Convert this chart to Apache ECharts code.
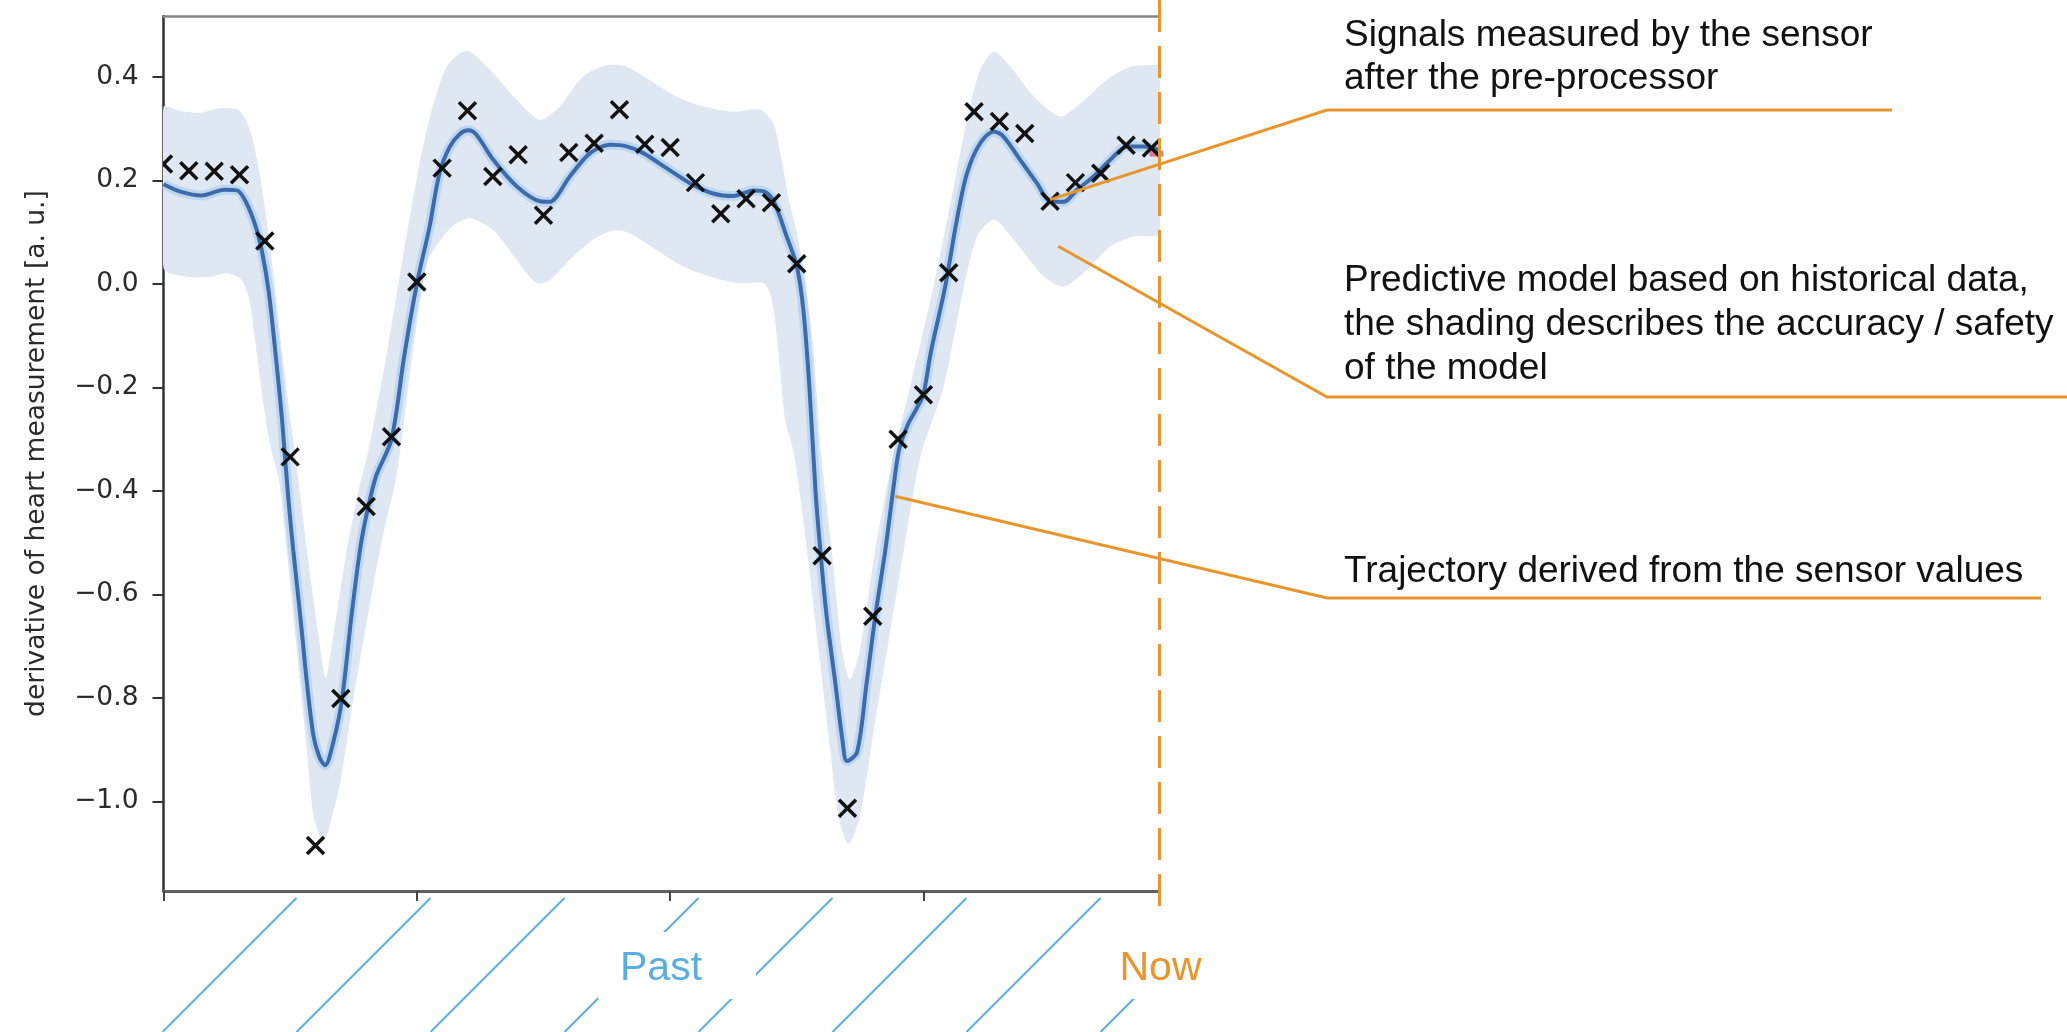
<!DOCTYPE html>
<html>
<head>
<meta charset="utf-8">
<title>Sensor signal and predictive model</title>
<script src="https://cdn.jsdelivr.net/npm/echarts@6/dist/echarts.min.js"></script>
<style>
  html, body { margin: 0; padding: 0; background: #fff; }
  #chart { width: 2067px; height: 1032px; }
</style>
</head>
<body>
<div id="chart"></div>
<script>
// sensor samples (after the pre-processor)
const sampleTimes = [0, 0.5, 1, 1.5, 2, 2.5, 3, 3.5, 4, 4.5, 5, 5.5, 6, 6.5, 7, 7.5, 8, 8.5, 9, 9.5,
  10, 10.5, 11, 11.5, 12, 12.5, 13, 13.5, 14, 14.5, 15, 15.5, 16, 16.5, 17, 17.5, 18, 18.5, 19, 19.5];
const sensorValues = [0.232, 0.219, 0.218, 0.211, 0.083, -0.334, -1.085, -0.801, -0.43, -0.295,
  0.004, 0.224, 0.335, 0.208, 0.25, 0.133, 0.254, 0.272, 0.337, 0.27,
  0.264, 0.196, 0.136, 0.165, 0.157, 0.039, -0.525, -1.013, -0.642, -0.3,
  -0.214, 0.022, 0.333, 0.314, 0.291, 0.16, 0.196, 0.214, 0.268, 0.263];

// model mean (trajectory)
const modelMean = [
  [0, 0.193], [0.35, 0.178], [0.75, 0.171], [1.2, 0.182], [1.45, 0.181], [1.63, 0.158],
  [1.82, 0.111], [1.95, 0.06], [2.08, -0.017], [2.21, -0.133], [2.34, -0.262], [2.46, -0.41],
  [2.56, -0.513], [2.7, -0.642], [2.83, -0.77], [2.96, -0.873], [3.08, -0.915], [3.19, -0.93],
  [3.35, -0.886], [3.52, -0.805], [3.71, -0.642], [3.88, -0.513], [4.02, -0.44], [4.2, -0.37],
  [4.5, -0.3], [4.75, -0.14], [5.0, 0.0], [5.25, 0.11], [5.45, 0.215], [5.65, 0.265],
  [5.85, 0.29], [6.02, 0.297], [6.18, 0.288], [6.51, 0.24], [6.97, 0.189], [7.43, 0.16],
  [7.62, 0.159], [8.02, 0.208], [8.42, 0.253], [8.81, 0.269], [9.14, 0.266], [9.47, 0.253],
  [9.93, 0.224], [10.39, 0.195], [10.85, 0.175], [11.25, 0.17], [11.65, 0.181], [11.88, 0.178],
  [12.06, 0.157], [12.3, 0.092], [12.5, 0.035], [12.63, -0.05], [12.75, -0.2], [12.87, -0.4],
  [12.97, -0.52], [13.09, -0.642], [13.26, -0.77], [13.4, -0.88], [13.49, -0.922], [13.69, -0.905],
  [13.88, -0.77], [14.05, -0.642], [14.25, -0.513], [14.4, -0.4], [14.52, -0.32], [14.7, -0.27],
  [14.87, -0.24], [15.0, -0.213], [15.15, -0.13], [15.43, -0.005], [15.66, 0.124], [15.86, 0.214],
  [16.12, 0.272], [16.39, 0.295], [16.58, 0.285], [16.91, 0.24], [17.24, 0.195], [17.5, 0.16],
  [17.77, 0.159], [18.03, 0.182], [18.36, 0.208], [18.69, 0.24], [19.02, 0.266], [19.35, 0.266],
  [19.66, 0.259]
];

// confidence band outline
const bandUpper = [
  [0, 0.342], [0.35, 0.334], [0.75, 0.331], [1.15, 0.34], [1.48, 0.336], [1.62, 0.318],
  [1.76, 0.28], [1.9, 0.21], [2.04, 0.12], [2.17, 0.02], [2.28, -0.08], [2.4, -0.18],
  [2.5, -0.26], [2.6, -0.33], [2.83, -0.513], [3.06, -0.68], [3.2, -0.762], [3.35, -0.68],
  [3.62, -0.513], [3.85, -0.4], [4.05, -0.32], [4.41, -0.133], [4.74, 0.06], [5.07, 0.24],
  [5.33, 0.349], [5.59, 0.42], [5.85, 0.446], [6.05, 0.449], [6.51, 0.407], [6.97, 0.356],
  [7.43, 0.317], [7.82, 0.343], [8.28, 0.401], [8.74, 0.423], [9.14, 0.42], [9.6, 0.394],
  [10.13, 0.362], [10.66, 0.343], [11.25, 0.333], [11.78, 0.337], [12.04, 0.31], [12.2, 0.24],
  [12.35, 0.16], [12.5, 0.1], [12.65, 0.02], [12.8, -0.1], [12.9, -0.22], [12.98, -0.33],
  [13.19, -0.513], [13.39, -0.706], [13.55, -0.764], [13.75, -0.706], [14.05, -0.513], [14.41, -0.33],
  [14.74, -0.198], [15.2, -0.005], [15.6, 0.189], [15.86, 0.317], [16.12, 0.414], [16.39, 0.449],
  [16.72, 0.42], [17.18, 0.362], [17.7, 0.324], [18.1, 0.349], [18.62, 0.395], [19.08, 0.42],
  [19.41, 0.423], [19.66, 0.42]
];
const bandLower = [
  [0, 0.031], [0.45, 0.014], [0.92, 0.014], [1.25, 0.021], [1.5, 0.012], [1.61, -0.005],
  [1.71, -0.037], [1.84, -0.133], [1.97, -0.23], [2.1, -0.31], [2.28, -0.38], [2.43, -0.513],
  [2.63, -0.706], [2.83, -0.9], [2.96, -1.028], [3.1, -1.07], [3.2, -1.07], [3.3, -1.04],
  [3.49, -0.963], [3.75, -0.8], [4.0, -0.66], [4.3, -0.5], [4.6, -0.37], [4.87, -0.17],
  [5.2, 0.04], [5.5, 0.09], [5.75, 0.115], [6.05, 0.127], [6.51, 0.104], [6.97, 0.047],
  [7.36, 0.002], [7.63, 0.008], [8.02, 0.047], [8.48, 0.086], [8.88, 0.104], [9.2, 0.098],
  [9.73, 0.066], [10.26, 0.034], [10.79, 0.014], [11.32, 0.002], [11.84, 0.002], [11.97, -0.017],
  [12.07, -0.069], [12.17, -0.165], [12.27, -0.262], [12.45, -0.33], [12.7, -0.513], [12.93, -0.706],
  [13.16, -0.899], [13.32, -1.028], [13.52, -1.082], [13.75, -1.028], [14.01, -0.867], [14.34, -0.674],
  [14.67, -0.48], [14.95, -0.33], [15.4, -0.198], [15.8, -0.005], [16.06, 0.092], [16.39, 0.124],
  [16.78, 0.086], [17.37, 0.015], [17.77, -0.005], [18.23, 0.028], [18.69, 0.073], [19.15, 0.092],
  [19.66, 0.098]
];
const lastSample = [[19.6, 0.252]];

const xTicks = [0, 5, 10, 15];
const yTicks = [-1.0, -0.8, -0.6, -0.4, -0.2, 0.0, 0.2, 0.4];
const xRange = [0, 19.66];
const yRange = [-1.173, 0.518];

const yAxisTitle = 'derivative of heart measurement [a. u.]';
const notes = [
  { lines: ['Signals measured by the sensor', 'after the pre-processor'], target: [17.5, 0.163] },
  { lines: ['Predictive model based on historical data,', 'the shading describes the accuracy / safety', 'of the model'], target: [17.66, 0.073] },
  { lines: ['Trajectory derived from the sensor values'], target: [14.44, -0.41] }
];
const pastLabel = 'Past';
const nowLabel = 'Now';

// layout (pixels)
const noteLayout = [
  { baselines: [47, 90.5], underlineY: 110, underlineEnd: 1892 },
  { baselines: [292, 336, 380.5], underlineY: 397, underlineEnd: 2067 },
  { baselines: [583], underlineY: 598, underlineEnd: 2041 }
];
const noteX = 1344, noteLineStart = 1327;
const orange = '#e8952c';
const sky = '#5aaedf';
const sans = '"Liberation Sans", Arial, sans-serif';
const mpl = '"DejaVu Sans", sans-serif';
const crossHalf = 8.5;

const chart = echarts.init(document.getElementById('chart'));

chart.setOption({
  animation: false,
  backgroundColor: '#fff',
  grid: { left: 163.5, right: 907.5, top: 16, bottom: 141, outerBoundsMode: 'none' },
  xAxis: [
    {
      type: 'value', min: xRange[0], max: xRange[1], position: 'bottom',
      axisLine: { onZero: false, lineStyle: { color: '#5f5f5f', width: 3 } },
      axisTick: { show: true, length: 10, customValues: xTicks, lineStyle: { color: '#444', width: 2 } },
      axisLabel: { show: false },
      splitLine: { show: false }
    },
    {
      type: 'value', min: xRange[0], max: xRange[1], position: 'top',
      axisLine: { onZero: false, lineStyle: { color: '#858585', width: 2.5 } },
      axisTick: { show: false }, axisLabel: { show: false }, splitLine: { show: false }
    }
  ],
  yAxis: {
    type: 'value', min: yRange[0], max: yRange[1],
    axisLine: { show: true, onZero: false, lineStyle: { color: '#333', width: 2.5 } },
    axisTick: { show: true, length: 11, customValues: yTicks, lineStyle: { color: '#333', width: 2 } },
    axisLabel: {
      customValues: yTicks, margin: 25, fontFamily: mpl, fontSize: 26.5, color: '#2a2a2a',
      formatter: v => (v < -1e-9 ? '\u2212' : '') + Math.abs(v).toFixed(1)
    },
    splitLine: { show: false },
    name: yAxisTitle, nameLocation: 'middle', nameGap: 113,
    nameTextStyle: { fontFamily: mpl, fontSize: 26.5, color: '#2a2a2a' }
  },
  series: [
    {
      // shaded accuracy band
      type: 'custom', z: 1, clip: true, silent: true,
      data: [[0, 0]],
      renderItem: (params, api) => {
        if (params.dataIndex !== 0) return null;
        const pts = bandUpper.map(p => api.coord(p))
          .concat(bandLower.slice().reverse().map(p => api.coord(p)));
        return { type: 'polygon', shape: { points: pts, smooth: 0.25 }, style: { fill: '#dfe7f2' } };
      }
    },
    {
      type: 'line', z: 2, data: modelMean, smooth: 0.3, showSymbol: false, silent: true,
      lineStyle: { color: 'rgba(150,196,240,0.45)', width: 10 }
    },
    {
      type: 'scatter', z: 3, data: lastSample, symbol: 'rect', symbolSize: [14, 6], silent: true,
      itemStyle: { color: '#d9607a' }
    },
    {
      type: 'line', z: 4, data: modelMean, smooth: 0.3, showSymbol: false, silent: true,
      lineStyle: { color: '#3c6aaa', width: 4 }
    },
    {
      // measured samples as clipped crosses
      type: 'custom', z: 5, clip: true, silent: true,
      encode: { x: 0, y: 1 },
      data: sampleTimes.map((t, i) => [t, sensorValues[i]]),
      renderItem: (params, api) => {
        const c = api.coord([api.value(0), api.value(1)]);
        const h = crossHalf;
        const st = { stroke: '#111', lineWidth: 3.5 };
        return {
          type: 'group',
          children: [
            { type: 'line', shape: { x1: c[0] - h, y1: c[1] - h, x2: c[0] + h, y2: c[1] + h }, style: st },
            { type: 'line', shape: { x1: c[0] - h, y1: c[1] + h, x2: c[0] + h, y2: c[1] - h }, style: st }
          ]
        };
      }
    }
  ]
});

function px(p) { return chart.convertToPixel({ gridIndex: 0 }, p); }

function buildGraphic() {
  const els = [];
  const nowX = px([xRange[1], 0])[0];
  const axisLeft = px([xRange[0], 0])[0];

  // hatched band under the time axis
  const hatchTop = 898, hatchBottom = 1032, hatchStep = 134;
  for (let xb = axisLeft - 1; xb < nowX; xb += hatchStep) {
    let x2 = xb + (hatchBottom - hatchTop), y2 = hatchTop;
    if (x2 > nowX) { y2 = hatchBottom - (nowX - xb); x2 = nowX; }
    els.push({ type: 'line', shape: { x1: xb, y1: hatchBottom, x2, y2 }, style: { stroke: sky, lineWidth: 2 }, z: 1 });
  }
  // text boxes that hide the hatching
  els.push({ type: 'rect', shape: { x: 598, y: 932, width: 158, height: 67 }, style: { fill: '#fff' }, z: 2 });
  els.push({ type: 'rect', shape: { x: 1100, y: 932, width: 140, height: 67 }, style: { fill: '#fff' }, z: 2 });
  els.push({ type: 'text', x: 661, y: 969, z: 3,
    style: { text: pastLabel, font: '41px ' + sans, fill: sky, align: 'center', verticalAlign: 'middle' } });
  els.push({ type: 'text', x: nowX + 1, y: 969, z: 3,
    style: { text: nowLabel, font: '41px ' + sans, fill: orange, align: 'center', verticalAlign: 'middle' } });

  // "now" marker
  els.push({ type: 'line', shape: { x1: nowX, y1: 0, x2: nowX, y2: 907 },
    style: { stroke: orange, lineWidth: 3, lineDash: [32, 14] }, z: 10 });

  // callouts
  notes.forEach((n, i) => {
    const L = noteLayout[i];
    n.lines.forEach((t, j) => {
      els.push({ type: 'text', x: noteX, y: L.baselines[j] - 11.5, z: 10,
        style: { text: t, font: '37px ' + sans, fill: '#111', align: 'left', verticalAlign: 'middle' } });
    });
    const tp = px(n.target);
    els.push({ type: 'polyline', z: 10,
      shape: { points: [tp, [noteLineStart, L.underlineY], [L.underlineEnd, L.underlineY]] },
      style: { stroke: orange, lineWidth: 3, fill: null } });
  });
  return els;
}

chart.setOption({ graphic: { elements: buildGraphic() } });
</script>
</body>
</html>
